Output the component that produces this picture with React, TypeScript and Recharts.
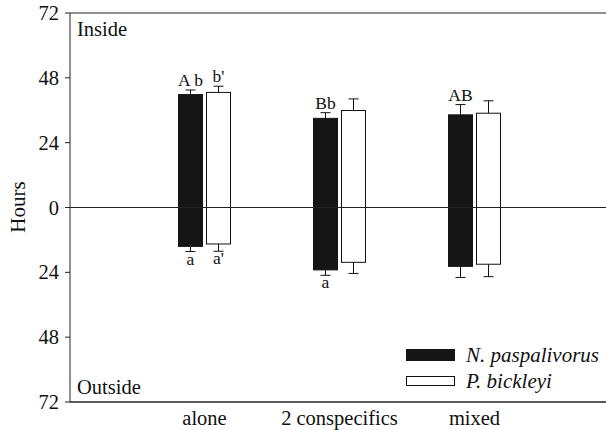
import React from 'react';
import { BarChart, Bar, XAxis, YAxis, ReferenceLine, Label, Legend } from 'recharts';

const FONT = 'Liberation Serif, Times New Roman, serif';

// hours spent inside / outside, per treatment
const categories = ['alone', '2 conspecifics', 'mixed'];
const npInside = [41.8, 33.0, 34.3];
const npInsideErr = [1.7, 2.1, 3.8];
const npOutside = [14.4, 23.1, 21.8];
const npOutsideErr = [1.9, 2.0, 4.1];
const pbInside = [42.6, 35.9, 34.9];
const pbInsideErr = [2.3, 4.3, 4.6];
const pbOutside = [13.5, 20.3, 21.0];
const pbOutsideErr = [2.7, 4.1, 4.6];

// significance letters
const npTopLetters = ['A b', 'Bb', 'AB'];
const npBottomLetters = ['a', 'a', ''];
const pbTopLetters = ["b'", '', ''];
const pbBottomLetters = ["a'", '', ''];

const yTicks = [-72, -48, -24, 0, 24, 48, 72];

const data = categories.map((name, i) => ({
  name,
  np: [-npOutside[i], npInside[i]],
  pb: [-pbOutside[i], pbInside[i]],
}));

const makeShape =
  (inside: number[], outside: number[], errIn: number[], errOut: number[], top: string[], bottom: string[], fill: string, stroke: string) =>
  (props: any) => {
    const { x, y, width, height, index } = props;
    const yTop = Math.min(y, y + height);
    const h = Math.abs(height);
    const ppu = h / (inside[index] + outside[index]);
    const cx = x + width / 2;
    const capTop = yTop - errIn[index] * ppu;
    const capBot = yTop + h + errOut[index] * ppu;
    return (
      <g>
        <line x1={cx} x2={cx} y1={yTop} y2={capTop} stroke="#111" strokeWidth={1} />
        <line x1={cx - 5} x2={cx + 5} y1={capTop} y2={capTop} stroke="#111" strokeWidth={1} />
        <line x1={cx} x2={cx} y1={yTop + h} y2={capBot} stroke="#111" strokeWidth={1} />
        <line x1={cx - 5} x2={cx + 5} y1={capBot} y2={capBot} stroke="#111" strokeWidth={1} />
        <rect x={x + 0.5} y={yTop} width={width - 1} height={h} fill={fill} stroke={stroke} strokeWidth={1} />
        {top[index] && (
          <text x={cx} y={capTop - 4} textAnchor="middle" fontFamily={FONT} fontSize={17.5} fill="#111">
            {top[index]}
          </text>
        )}
        {bottom[index] && (
          <text x={cx} y={capBot + 13} textAnchor="middle" fontFamily={FONT} fontSize={17.5} fill="#111">
            {bottom[index]}
          </text>
        )}
      </g>
    );
  };

const npShape = makeShape(npInside, npOutside, npInsideErr, npOutsideErr, npTopLetters, npBottomLetters, '#151515', '#151515');
const pbShape = makeShape(pbInside, pbOutside, pbInsideErr, pbOutsideErr, pbTopLetters, pbBottomLetters, '#fff', '#111');

const XTick = (props: any) => {
  const { x, y, payload } = props;
  return (
    <text x={x} y={y + 14} textAnchor="middle" fontFamily={FONT} fontSize={20.5} fill="#111">
      {payload.value}
    </text>
  );
};

const YTick = (props: any) => {
  const { x, y, payload } = props;
  return (
    <text x={x + 1} y={y + 7} textAnchor="end" fontFamily={FONT} fontSize={20.5} fill="#111">
      {Math.abs(payload.value)}
    </text>
  );
};

const renderLegend = () => (
  <div style={{ fontFamily: FONT, fontStyle: 'italic', fontSize: 21, color: '#111' }}>
    <div style={{ display: 'flex', alignItems: 'center', height: 26 }}>
      <div style={{ width: 49, height: 12, background: '#151515' }} />
      <span style={{ marginLeft: 11 }}>N. paspalivorus</span>
    </div>
    <div style={{ display: 'flex', alignItems: 'center', height: 26 }}>
      <div style={{ width: 47, height: 8, background: '#fff', border: '1px solid #111' }} />
      <span style={{ marginLeft: 11 }}>P. bickleyi</span>
    </div>
  </div>
);

export default function App() {
  return (
    <div style={{ position: 'absolute', left: 0, top: 0, fontFamily: FONT }}>
      <BarChart
        width={606}
        height={430}
        data={data}
        margin={{ top: 13, right: 0, left: 0, bottom: 0 }}
        barSize={25}
        barGap={3}
      >
        <XAxis
          dataKey="name"
          padding={{ left: 67, right: 64 }}
          tickLine={false}
          tickSize={6}
          tickMargin={3}
          height={28}
          axisLine={{ stroke: '#222' }}
          tick={<XTick />}
        />
        <YAxis
          domain={[-72, 72]}
          ticks={yTicks}
          width={70}
          tickSize={5}
          tickMargin={7}
          interval={0}
          axisLine={{ stroke: '#222' }}
          tickLine={{ stroke: '#222' }}
          tick={<YTick />}
        >
          <Label
            content={() => (
              <text x={18} y={207} transform="rotate(-90 18 207)" textAnchor="middle" dominantBaseline="central" fontFamily={FONT} fontSize={21} fill="#111">
                Hours
              </text>
            )}
          />
        </YAxis>
        <Bar dataKey="np" fill="#151515" shape={npShape} isAnimationActive={false} />
        <Bar dataKey="pb" fill="#fff" shape={pbShape} isAnimationActive={false} />
        <ReferenceLine
          y={72}
          stroke="#222"
          label={(p: any) => (
            <text x={p.viewBox.x + 7} y={p.viewBox.y + 23} fontFamily={FONT} fontSize={20.5} fill="#111">
              Inside
            </text>
          )}
        />
        <ReferenceLine y={0} stroke="#222" />
        <ReferenceLine
          y={-72}
          stroke="#222"
          label={(p: any) => (
            <text x={p.viewBox.x + 7} y={p.viewBox.y - 8} fontFamily={FONT} fontSize={20.5} fill="#111">
              Outside
            </text>
          )}
        />
        <Legend
          layout="vertical"
          align="center"
          verticalAlign="middle"
          content={renderLegend}
          wrapperStyle={{ left: 406, top: 342, width: 200, height: 52 }}
        />
      </BarChart>
    </div>
  );
}
